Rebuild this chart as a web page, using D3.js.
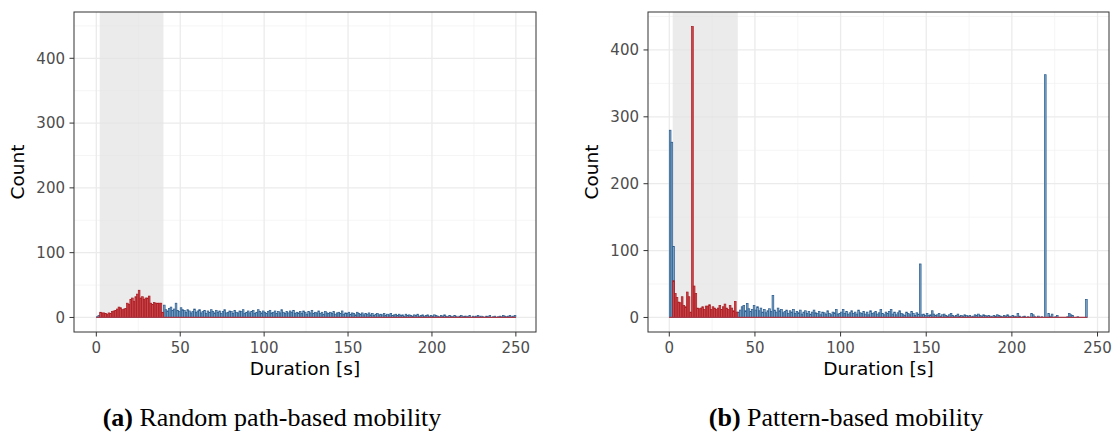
<!DOCTYPE html>
<html><head><meta charset="utf-8">
<script src="https://cdn.jsdelivr.net/npm/d3@7"></script>
<style>body{margin:0;background:#fff}</style></head>
<body>
<svg id="c" width="1118" height="434"></svg>
<script>
// ---------- shared ----------
const xTicks = [0, 50, 100, 150, 200, 250];
const yTicks = [0, 100, 200, 300, 400];
const shadeRange = [2, 40];
const xTitle = "Duration [s]";
const yTitle = "Count";

// ---------- panel (a): random path-based mobility ----------
const aBlueHeadStart = 0;
const aBlueHead = [1, 3];
const aRedStart = 2;
const aRed = [8,7,7,6,5,7,6,9,10,11, 13,16,15,12,13,14,22,20,28,30,
              25,32,36,42,30,32,28,30,30,33, 22,20,23,22,22,22,22,8];
const aBlueStart = 40;
const aBlue = [
 19,12,10,14,16,11,13,22,11,9,
 15,12,11,8,12,10,7,9,13,8,
 10,12,7,9,11,6,10,8,12,9,
 7,11,8,10,6,9,12,7,8,10,
 9,6,11,8,7,10,9,12,6,8,
 10,7,9,11,6,8,12,9,7,10,
 8,6,9,11,7,8,10,6,9,7,
 12,8,6,9,7,10,8,11,6,8,
 7,9,6,10,8,5,9,7,11,6,
 8,7,10,6,8,5,9,7,6,8,
 6,9,5,7,8,6,10,5,7,6,
 8,5,7,6,4,8,6,5,7,4,
 6,5,7,4,6,3,5,6,4,5,
 4,6,3,5,4,6,3,4,5,3,
 5,3,4,2,5,3,4,3,2,4,
 3,5,2,3,4,2,3,4,2,3,
 2,4,3,2,1,3,2,4,2,1,
 3,2,1,3,2,0,2,3,1,2,
 2,1,3,0,2,1,2,3,1,2,
 1,0,2,1,3,0,1,2,0,1,
 2,1,3,2,1,2,3,1,2,3];
const aXMax = 250;
const aYMax = 449;
const aCaptionTag = "(a)";
const aCaptionText = " Random path-based mobility";

// ---------- panel (b): pattern-based mobility ----------
const bBlueHeadStart = 0;
const bBlueHead = [280, 262, 106];
const bRedStart = 2;
const bRed = [55,36,30,23,22,31,18,16,38,31, 8,435,47,36,14,13,14,16,12,17,
              17,19,12,16,14,12,14,18,12,16, 20,14,12,18,14,10,24,8];
const bBlueStart = 40;
const bBlue = [
 8,11,16,18,10,21,13,9,12,18,
 11,16,10,14,8,12,7,10,13,9,
 33,11,8,14,10,12,7,9,11,6,
 10,8,12,6,9,7,11,5,8,10,
 6,9,5,8,11,7,6,9,4,8,
 7,5,10,6,4,8,7,12,5,6,
 8,12,6,9,5,7,10,6,8,5,
 11,7,6,9,5,8,4,10,6,7,
 9,5,7,12,6,4,8,6,9,12,
 5,8,4,7,10,6,5,3,8,6,
 4,9,6,3,7,5,80,4,5,3,
 6,3,4,10,5,3,4,6,2,4,
 5,3,2,4,6,3,2,3,5,2,
 3,2,4,3,2,3,1,2,4,3,
 5,3,2,4,3,2,3,2,1,3,
 2,4,3,2,1,3,2,4,2,1,
 3,2,1,6,2,0,1,2,0,1,
 0,6,4,1,0,2,0,1,0,363,
 0,6,2,5,0,1,3,0,0,0,
 0,0,1,6,4,3,0,0,1,0,
 0,0,0,27];
const bXMax = 244;
const bYMax = 435;
const bCaptionTag = "(b)";
const bCaptionText = " Pattern-based mobility";

// ---------- drawing ----------
const svg = d3.select("#c");
const FONT = "DejaVu Sans";

function toBins(start, arr) { return arr.map((v, i) => ({ x: start + i, v })); }

function panel(cfg) {
  const { left, right, top, bottom, xDomain, yMax } = cfg;
  const x = d3.scaleLinear().domain(xDomain).range([left, right]);
  const yPad = yMax * 0.05;
  const y = d3.scaleLinear().domain([-yPad, yMax + yPad]).range([bottom, top]);
  const g = svg.append("g");

  g.append("rect").attr("x", left).attr("y", top).attr("width", right - left)
    .attr("height", bottom - top).attr("fill", "#fff");

  const xMinor = xTicks.slice(0, -1).map((t, i) => (t + xTicks[i + 1]) / 2);
  const yMinor = yTicks.map(t => t + 50);
  g.selectAll(".xmin").data(xMinor).join("line")
    .attr("x1", d => x(d)).attr("x2", d => x(d)).attr("y1", top).attr("y2", bottom)
    .attr("stroke", "#f0f0f0").attr("stroke-width", 0.7);
  g.selectAll(".ymin").data(yMinor).join("line")
    .attr("x1", left).attr("x2", right).attr("y1", d => y(d)).attr("y2", d => y(d))
    .attr("stroke", "#f0f0f0").attr("stroke-width", 0.7);
  g.selectAll(".xmaj").data(xTicks).join("line")
    .attr("x1", d => x(d)).attr("x2", d => x(d)).attr("y1", top).attr("y2", bottom)
    .attr("stroke", "#ebebeb").attr("stroke-width", 1.3);
  g.selectAll(".ymaj").data(yTicks).join("line")
    .attr("x1", left).attr("x2", right).attr("y1", d => y(d)).attr("y2", d => y(d))
    .attr("stroke", "#ebebeb").attr("stroke-width", 1.3);

  g.append("rect").attr("x", x(shadeRange[0])).attr("y", top)
    .attr("width", x(shadeRange[1]) - x(shadeRange[0]))
    .attr("height", y(0) - top)
    .attr("fill", "#e3e3e3").attr("opacity", 0.7);

  const bw = x(1) - x(0);
  const blue = toBins(cfg.blueHeadStart, cfg.blueHead).concat(toBins(cfg.blueStart, cfg.blue)).filter(d => d.v > 0);
  const red = toBins(cfg.redStart, cfg.red).filter(d => d.v > 0);

  g.selectAll(".blue").data(blue).join("rect")
    .attr("x", d => x(d.x)).attr("width", bw)
    .attr("y", d => y(d.v)).attr("height", d => y(0) - y(d.v))
    .attr("fill", "#7ea7cc").attr("stroke", "#28598a").attr("stroke-width", 0.7);
  g.selectAll(".red").data(red).join("rect")
    .attr("x", d => x(d.x)).attr("width", bw)
    .attr("y", d => y(d.v)).attr("height", d => y(0) - y(d.v))
    .attr("fill", "#cc4a4e").attr("stroke", "#a8191f").attr("stroke-width", 0.7);

  g.append("line").attr("x1", x(0)).attr("x2", x(cfg.xMax)).attr("y1", y(0)).attr("y2", y(0))
    .attr("stroke", "#a63a48").attr("stroke-width", 1.2);

  g.append("rect").attr("x", left).attr("y", top).attr("width", right - left)
    .attr("height", bottom - top).attr("fill", "none").attr("stroke", "#333").attr("stroke-width", 1);

  g.selectAll(".yt").data(yTicks).join("line")
    .attr("x1", left - 4.5).attr("x2", left).attr("y1", d => y(d)).attr("y2", d => y(d))
    .attr("stroke", "#333").attr("stroke-width", 1);
  g.selectAll(".yl").data(yTicks).join("text")
    .attr("x", left - 9).attr("y", d => y(d)).attr("dy", "0.36em")
    .attr("text-anchor", "end").attr("font-family", FONT).attr("font-size", 15)
    .attr("fill", "#4d4d4d").text(d => d);
  g.selectAll(".xt").data(xTicks).join("line")
    .attr("x1", d => x(d)).attr("x2", d => x(d)).attr("y1", bottom).attr("y2", bottom + 4.5)
    .attr("stroke", "#333").attr("stroke-width", 1);
  g.selectAll(".xl").data(xTicks).join("text")
    .attr("x", d => x(d)).attr("y", bottom + 20.5)
    .attr("text-anchor", "middle").attr("font-family", FONT).attr("font-size", 15)
    .attr("fill", "#4d4d4d").text(d => d);

  g.append("text").attr("x", (left + right) / 2).attr("y", bottom + 43)
    .attr("text-anchor", "middle").attr("font-family", FONT).attr("font-size", 18.5)
    .attr("fill", "#000").text(xTitle);
  g.append("text").attr("transform", `translate(${cfg.yTitleX},${(top + bottom) / 2}) rotate(-90)`)
    .attr("text-anchor", "middle").attr("font-family", FONT).attr("font-size", 18.5)
    .attr("fill", "#000").text(yTitle);

  const cap = svg.append("text").attr("x", cfg.capX).attr("y", cfg.capY)
    .attr("text-anchor", "middle")
    .attr("font-family", "Liberation Serif").attr("font-size", 26).attr("fill", "#000");
  cap.append("tspan").attr("font-weight", "bold").text(cfg.capTag);
  cap.append("tspan").text(cfg.capText);
}

panel({
  left: 74, right: 536, top: 12, bottom: 332, xDomain: [-13.3, 262.0], yMax: aYMax,
  blueHeadStart: aBlueHeadStart, blueHead: aBlueHead, redStart: aRedStart, red: aRed,
  blueStart: aBlueStart, blue: aBlue, xMax: aXMax, yTitleX: 24,
  capX: 272, capY: 426, capTag: aCaptionTag, capText: aCaptionText
});
panel({
  left: 648, right: 1109, top: 12, bottom: 332, xDomain: [-12.43, 256.7], yMax: bYMax,
  blueHeadStart: bBlueHeadStart, blueHead: bBlueHead, redStart: bRedStart, red: bRed,
  blueStart: bBlueStart, blue: bBlue, xMax: bXMax, yTitleX: 598,
  capX: 846, capY: 426, capTag: bCaptionTag, capText: bCaptionText
});
</script>
</body></html>
